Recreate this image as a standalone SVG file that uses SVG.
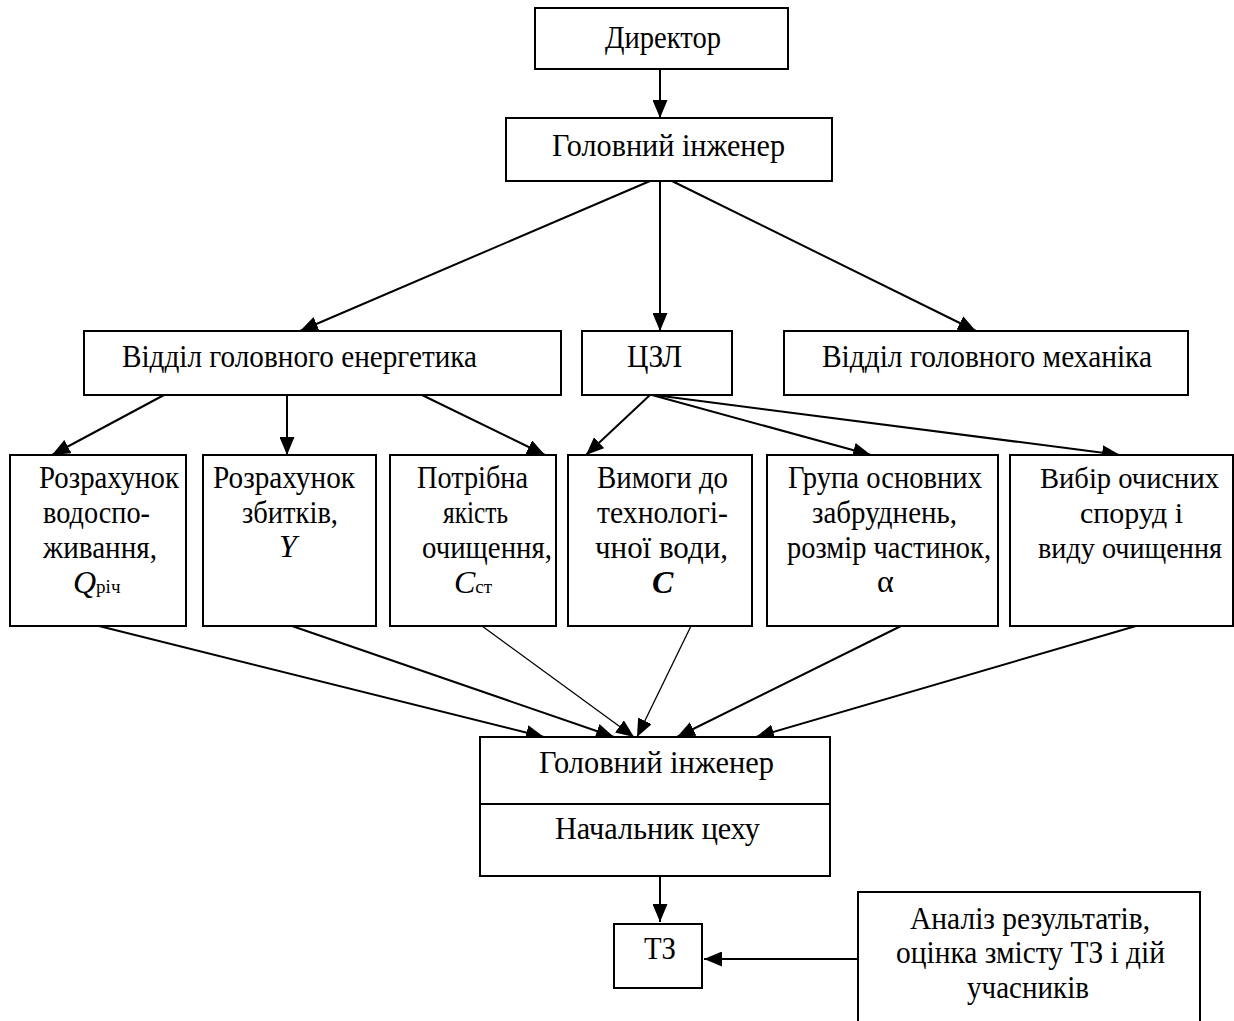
<svg xmlns="http://www.w3.org/2000/svg" width="1234" height="1021" viewBox="0 0 1234 1021">
<style>
.box{fill:#fff;stroke:#000;stroke-width:2}
.t{font-family:"Liberation Serif","Times New Roman",serif;font-size:32px;fill:#000}
.s{font-size:30px}
.c{fill:none;stroke:#000;stroke-width:2}
.thin{stroke-width:1.3}
</style>
<defs>
<marker id="ah" markerUnits="userSpaceOnUse" markerWidth="18" markerHeight="15" refX="18" refY="7.5" orient="auto">
<path d="M0,0 L18,7.5 L0,15 z" fill="#000"/>
</marker>
</defs>
<rect width="1234" height="1021" fill="#fff"/>
<g id="connectors">
<line class="c" x1="660" y1="69" x2="660" y2="118" marker-end="url(#ah)"/>
<line class="c" x1="650" y1="181" x2="300" y2="331" marker-end="url(#ah)"/>
<line class="c" x1="660" y1="181" x2="660" y2="331" marker-end="url(#ah)"/>
<line class="c" x1="672" y1="181" x2="976" y2="331" marker-end="url(#ah)"/>
<line class="c" x1="164" y1="395" x2="52" y2="455" marker-end="url(#ah)"/>
<line class="c" x1="287" y1="395" x2="287" y2="455" marker-end="url(#ah)"/>
<line class="c" x1="422" y1="395" x2="545" y2="455" marker-end="url(#ah)"/>
<line class="c" x1="650" y1="395" x2="586" y2="455" marker-end="url(#ah)"/>
<line class="c" x1="652" y1="395" x2="871" y2="455" marker-end="url(#ah)"/>
<line class="c" x1="654" y1="395" x2="1120" y2="455" marker-end="url(#ah)"/>
<line class="c" x1="99" y1="626" x2="544" y2="737" marker-end="url(#ah)"/>
<line class="c" x1="292" y1="626" x2="614" y2="737" marker-end="url(#ah)"/>
<line class="c thin" x1="482" y1="626" x2="634" y2="737" marker-end="url(#ah)"/>
<line class="c thin" x1="691" y1="626" x2="637" y2="737" marker-end="url(#ah)"/>
<line class="c" x1="901" y1="626" x2="677" y2="737" marker-end="url(#ah)"/>
<line class="c" x1="1136" y1="626" x2="756" y2="737" marker-end="url(#ah)"/>
<line class="c" x1="660" y1="876" x2="660" y2="922" marker-end="url(#ah)"/>
<line class="c" x1="858" y1="959" x2="704" y2="959" marker-end="url(#ah)"/>
</g>
<g id="director">
<rect class="box" x="535" y="8" width="253" height="61"/>
<text class="t" x="605" y="48" textLength="116" lengthAdjust="spacingAndGlyphs">Директор</text>
</g>
<g id="chief-engineer">
<rect class="box" x="506" y="118" width="326" height="63"/>
<text class="t" x="552" y="156" textLength="233" lengthAdjust="spacingAndGlyphs">Головний  інженер</text>
</g>
<g id="energetics">
<rect class="box" x="84" y="331" width="477" height="64"/>
<text class="t" x="122" y="367" textLength="355" lengthAdjust="spacingAndGlyphs">Відділ головного енергетика</text>
</g>
<g id="czl">
<rect class="box" x="582" y="331" width="150" height="64"/>
<text class="t" x="627" y="367" textLength="55" lengthAdjust="spacingAndGlyphs">ЦЗЛ</text>
</g>
<g id="mechanics">
<rect class="box" x="784" y="331" width="404" height="64"/>
<text class="t" x="822" y="367" textLength="330" lengthAdjust="spacingAndGlyphs">Відділ головного механіка</text>
</g>
<g id="water-consumption">
<rect class="box" x="10" y="455" width="176" height="171"/>
<text class="t" x="39" y="488" textLength="140" lengthAdjust="spacingAndGlyphs">Розрахунок</text>
<text class="t" x="43" y="523" textLength="107" lengthAdjust="spacingAndGlyphs">водоспо-</text>
<text class="t" x="43" y="558" textLength="114" lengthAdjust="spacingAndGlyphs">живання,</text>
<text class="t" x="73" y="593"><tspan font-style="italic">Q</tspan><tspan font-size="19">річ</tspan></text>
</g>
<g id="damages">
<rect class="box" x="203" y="455" width="173" height="171"/>
<text class="t" x="213" y="488" textLength="142" lengthAdjust="spacingAndGlyphs">Розрахунок</text>
<text class="t" x="242" y="523" textLength="96" lengthAdjust="spacingAndGlyphs">збитків,</text>
<text class="t" x="279" y="557" font-style="italic">Y</text>
</g>
<g id="quality">
<rect class="box" x="390" y="455" width="166" height="171"/>
<text class="t" x="417" y="488" textLength="111" lengthAdjust="spacingAndGlyphs">Потрібна</text>
<text class="t" x="443" y="523" textLength="65" lengthAdjust="spacingAndGlyphs">якість</text>
<text class="t" x="422" y="558" textLength="130" lengthAdjust="spacingAndGlyphs">очищення,</text>
<text class="t" x="454" y="593"><tspan font-style="italic">C</tspan><tspan font-size="19">ст</tspan></text>
</g>
<g id="requirements">
<rect class="box" x="568" y="455" width="184" height="171"/>
<text class="t" x="597" y="488" textLength="131" lengthAdjust="spacingAndGlyphs">Вимоги до</text>
<text class="t" x="597" y="523" textLength="131" lengthAdjust="spacingAndGlyphs">технологі-</text>
<text class="t" x="595" y="558" textLength="133" lengthAdjust="spacingAndGlyphs">чної води,</text>
<text class="t" x="652" y="593" font-style="italic" font-weight="bold">C</text>
</g>
<g id="pollutants">
<rect class="box" x="767" y="455" width="231" height="171"/>
<text class="t" x="788" y="488" textLength="194" lengthAdjust="spacingAndGlyphs">Група основних</text>
<text class="t" x="812" y="523" textLength="145" lengthAdjust="spacingAndGlyphs">забруднень,</text>
<text class="t" x="787" y="558" textLength="204" lengthAdjust="spacingAndGlyphs">розмір частинок,</text>
<text class="t" x="877" y="592">α</text>
</g>
<g id="treatment">
<rect class="box" x="1010" y="455" width="223" height="171"/>
<text class="t s" x="1040" y="488" textLength="179" lengthAdjust="spacingAndGlyphs">Вибір очисних</text>
<text class="t s" x="1080" y="523" textLength="103" lengthAdjust="spacingAndGlyphs">споруд  і</text>
<text class="t s" x="1038" y="558" textLength="184" lengthAdjust="spacingAndGlyphs">виду очищення</text>
</g>
<g id="chief-engineer-shop">
<rect class="box" x="480" y="737" width="350" height="139"/>
<line x1="480" y1="804" x2="830" y2="804" stroke="#000" stroke-width="2"/>
<text class="t" x="539" y="773" textLength="235" lengthAdjust="spacingAndGlyphs">Головний  інженер</text>
<text class="t" x="555" y="839" textLength="205" lengthAdjust="spacingAndGlyphs">Начальник  цеху</text>
</g>
<g id="tz">
<rect class="box" x="614" y="924" width="88" height="64"/>
<text class="t" x="644" y="959" textLength="32" lengthAdjust="spacingAndGlyphs">ТЗ</text>
</g>
<g id="analysis">
<rect class="box" x="858" y="892" width="342" height="140"/>
<text class="t" x="910" y="929" textLength="240" lengthAdjust="spacingAndGlyphs">Аналіз результатів,</text>
<text class="t" x="896" y="963" textLength="269" lengthAdjust="spacingAndGlyphs">оцінка змісту ТЗ і дій</text>
<text class="t" x="967" y="998" textLength="122" lengthAdjust="spacingAndGlyphs">учасників</text>
</g>
</svg>
